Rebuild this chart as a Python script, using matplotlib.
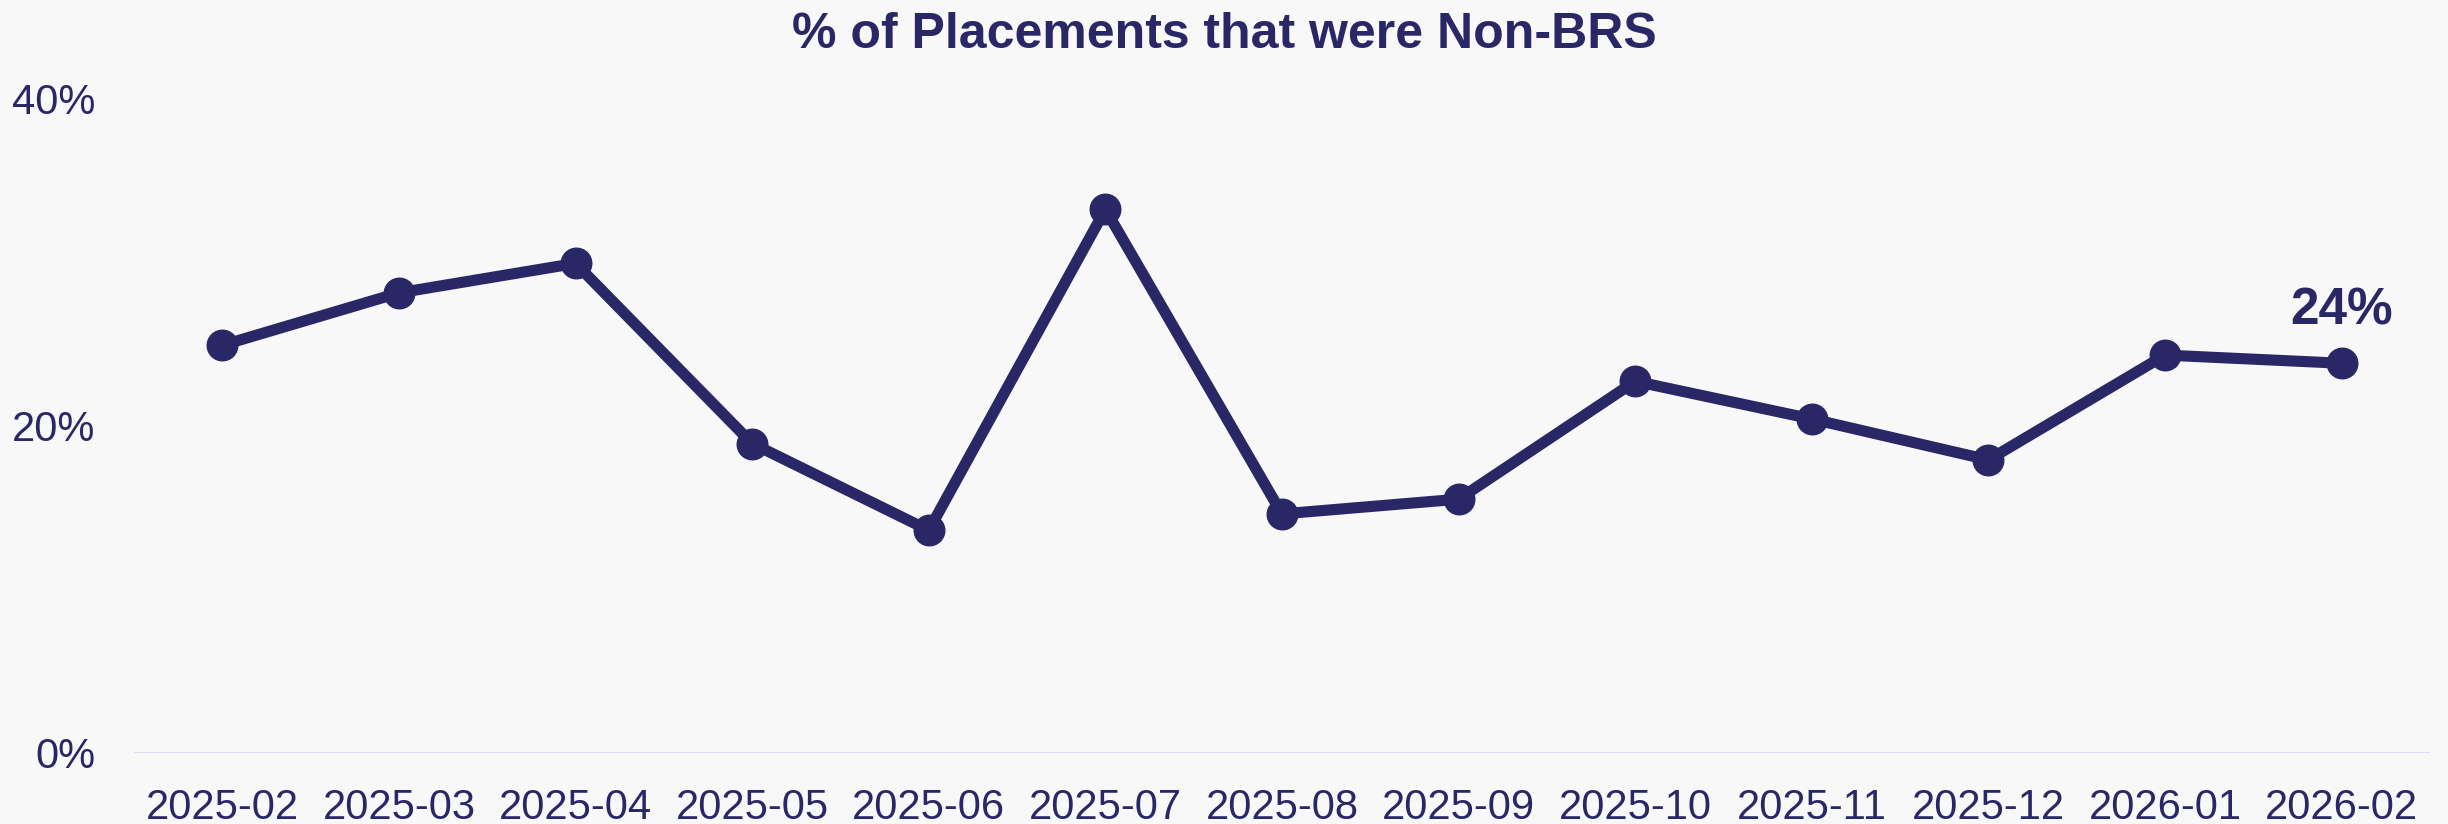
import matplotlib.pyplot as plt

months = ["2025-02", "2025-03", "2025-04", "2025-05", "2025-06", "2025-07", "2025-08",
          "2025-09", "2025-10", "2025-11", "2025-12", "2026-01", "2026-02"]
non_brs_pct = [24.9, 28.1, 29.9, 18.9, 13.6, 33.2, 14.6, 15.5, 22.7, 20.4, 17.9, 24.3, 23.8]
y_ticks = [0, 20, 40]

navy = "#2a2766"
bg = "#f8f8f8"

plt.rcParams['font.family'] = ['Liberation Sans', 'DejaVu Sans']

fig = plt.figure(figsize=(24.48, 8.24), dpi=100, facecolor=bg)
ax = fig.add_axes([134 / 2448, 1 - 753 / 824, (2430 - 134) / 2448, (753 - 98) / 824])
ax.set_facecolor(bg)

x = list(range(len(months)))
ax.plot(x, non_brs_pct, color=navy, lw=8, marker='o', markersize=22, zorder=3)

# label on the latest point
ax.annotate(f"{non_brs_pct[-1]:.0f}%", (x[-1], non_brs_pct[-1]), xytext=(0, 28),
            textcoords='offset points', ha='center', va='baseline',
            fontsize=37, fontweight='bold', color=navy)

ax.axhline(0, color="#dcdcf0", lw=2.2, zorder=1)
ax.set_xlim(-0.5, len(months) - 0.5)
ax.set_ylim(0, 40)
ax.set_xticks(x)
ax.set_xticklabels(months)
ax.set_yticks(y_ticks)
ax.set_yticklabels([f"{v}%" for v in y_ticks])
ax.tick_params(axis='both', length=0, labelsize=30, labelcolor=navy)
ax.tick_params(axis='x', pad=25)
ax.tick_params(axis='y', pad=28)
for s in ax.spines.values():
    s.set_visible(False)

fig.text(0.5, 1 - 48 / 824, "% of Placements that were Non-BRS", ha='center', va='baseline',
         fontsize=36, fontweight='bold', color=navy)

fig.savefig("out.png", dpi=100, facecolor=bg)
